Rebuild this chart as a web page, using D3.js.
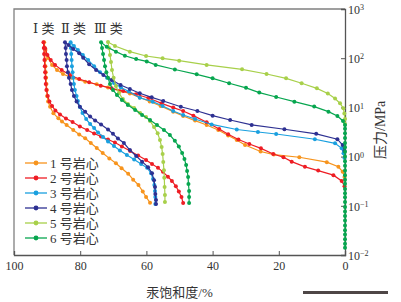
<!DOCTYPE html>
<html>
<head>
<meta charset="utf-8">
<script src="https://cdn.jsdelivr.net/npm/d3@7"></script>
<style>
  body { margin: 0; background: #fff; }
  text { font-family: "Liberation Serif", "DejaVu Serif", "Noto Sans CJK SC", serif; fill: #333; }
</style>
</head>
<body>
<div id="chart"></div>
<script>
// saturation (%) , pressure (MPa) -- injection first, then withdrawal
const core1 = [[0.15,0.385],[0.7,0.49],[2.0,0.62],[5.5,0.77],[13.8,0.97],[21.5,1.10],[25.5,1.27],[30.2,1.72],[32.7,2.17],[35.3,2.69],[38.3,3.47],[41.8,4.4],[45.3,5.4],[48.9,6.7],[51.9,8.2],[55.7,10.7],[59.0,13.2],[62.0,15.9],[65.0,19.2],[68.0,21.5],[71.6,25.4],[75.0,29.5],[78.5,33.3],[82.6,40.2],[85.2,47.7],[87.0,57.5],[88.5,73],[89.7,101],[90.5,147],[90.9,210],
  [90.8,161],[90.7,122],[90.6,92],[90.5,69],[90.4,52],[90.3,40],[90.2,30],[90.1,22.6],[90.0,17.1],[89.7,13.2],[89.1,10.3],[88.1,7.6],[86.6,6.0],[85.5,5.17],[84.1,4.39],[82.1,3.47],[80.3,2.81],[78.5,2.36],[76.8,1.89],[75.0,1.50],[73.2,1.18],[71.2,0.92],[69.2,0.73],[67.5,0.58],[65.5,0.45],[64.0,0.34],[62.4,0.265],[61.1,0.195],[60.1,0.151],[58.9,0.116]];
const core2 = [[0.15,0.25],[1.0,0.32],[3.5,0.42],[8.1,0.52],[12.1,0.62],[16.1,0.79],[18.6,0.97],[21.7,1.13],[25.4,1.47],[28.9,1.80],[32.2,2.23],[35.3,2.84],[38.0,3.64],[41.8,5.0],[45.8,6.8],[48.9,8.45],[51.9,9.9],[55.4,12.1],[59.4,15.5],[63.1,18.5],[67.0,21.5],[70.5,24.4],[73.8,27.6],[77.3,32.4],[80.3,37.8],[83.1,45.6],[85.6,57.5],[87.6,73],[88.9,92],[89.9,116],[90.6,159],[91.1,210],
  [91.0,161],[90.9,122],[90.8,92],[90.7,69],[90.6,52],[90.5,40],[90.4,30],[90.2,22.6],[89.8,17.1],[89.3,13.2],[88.5,10.7],[87.5,8.65],[86.1,7.2],[84.3,5.95],[82.3,5.05],[80.1,4.1],[77.9,3.47],[75.8,2.95],[73.7,2.56],[71.6,2.23],[69.5,1.94],[67.4,1.60],[64.9,1.30],[62.5,1.05],[60.1,0.85],[58.3,0.71],[56.5,0.59],[55.0,0.49],[53.5,0.39],[52.3,0.32],[51.1,0.25],[50.2,0.195],[49.4,0.151],[48.9,0.114]];
const core3 = [[0.15,0.94],[0.45,1.17],[1.0,1.47],[3.0,1.86],[9.1,2.25],[20.8,2.88],[26.3,3.16],[32.7,3.55],[40.3,4.5],[45.3,5.8],[48.9,7.0],[51.9,8.45],[55.1,10.7],[58.1,13.1],[62.0,15.7],[65.3,21],[67.7,25.4],[69.8,31.3],[71.9,40],[74.0,52],[75.8,69],[77.6,92],[79.2,116],[80.7,147],[81.9,177],[82.9,210],
  [82.8,161],[82.7,122],[82.6,92],[82.5,69],[82.3,52],[82.1,40],[81.9,30],[81.6,22.6],[81.1,17.1],[80.7,13.5],[80.1,10.2],[79.3,7.7],[78.2,5.8],[77.0,4.6],[75.8,3.8],[74.6,3.09],[73.1,2.5],[71.6,2.03],[69.8,1.64],[68.0,1.33],[65.9,1.08],[63.7,0.87],[61.6,0.71],[59.8,0.59],[58.6,0.46],[58.0,0.35],[57.6,0.265],[57.4,0.20],[57.3,0.151],[57.3,0.109]];
const core4 = [[0.15,1.3],[0.7,1.72],[2.3,2.26],[8.7,2.9],[18.3,3.6],[28.2,4.4],[34.7,5.55],[40.0,6.8],[44.6,8.45],[49.6,10.3],[54.9,13.5],[58.4,16],[62.0,19.4],[65.0,23.6],[67.8,28.5],[70.5,36],[73.0,45.6],[75.2,57.5],[77.3,75],[79.1,102],[80.3,126],[82.1,154],[83.6,185],[84.6,210],
  [84.4,161],[84.3,122],[84.1,92],[84.0,69],[83.7,52],[83.4,40],[82.9,30],[82.5,22.6],[81.9,17.1],[81.1,13.2],[80.1,10.3],[78.5,8.2],[77.0,6.5],[75.5,5.4],[73.7,4.5],[71.6,3.55],[70.1,2.9],[68.6,2.33],[66.8,1.89],[65.0,1.36],[63.1,1.03],[61.3,0.79],[59.5,0.61],[58.3,0.46],[57.7,0.33],[57.4,0.24],[57.3,0.174],[57.1,0.131],[57.1,0.109]];
const core5 = [[0,4.6],[0,5.8],[0.2,7.5],[0.5,9.6],[1.5,12.1],[3.0,15.2],[5.2,19.2],[8.5,24.4],[13.1,30.9],[17.8,39],[23.7,47.7],[31.1,59.5],[41.8,73],[50.1,89],[55.1,99.5],[60.1,111],[65.0,136],[69.5,177],[71.6,213],
  [71.3,161],[71.0,116],[70.7,84],[70.4,57.5],[69.9,40],[69.2,27.2],[68.3,19.6],[67.1,14.8],[65.6,11.7],[63.7,9.7],[61.9,7.7],[60.1,6.4],[58.9,5.3],[57.7,4.0],[56.6,3.0],[55.9,2.17],[55.4,1.57],[55.1,1.13],[54.9,0.78],[54.7,0.53],[54.6,0.37],[54.5,0.24],[54.4,0.166],[54.4,0.119]];
const core6 = [[0,0.014],[0,0.017],[0,0.021],[0,0.026],[0,0.032],[0,0.04],[0,0.05],[0,0.062],[0,0.077],[0,0.095],[0,0.12],[0,0.15],[0,0.18],[0,0.22],[0,0.28],[0,0.34],[0,0.42],[0,0.52],[0,0.65],[0,0.8],[0,1.0],[0,1.25],[0,1.55],[0,1.9],[0,2.4],[0,3.0],[0,3.7],[0,4.4],[0.6,5.3],[2.3,6.7],[5.0,8.2],[9.3,10.4],[15.3,13.1],[20.8,16.3],[25.9,20],[29.9,25],[35.0,31],[40.0,39],[44.8,47],[51.4,59],[57.2,73],[59.9,86],[63.1,96],[66.5,112],[69.2,136],[72.0,171],[73.7,210],
  [73.4,161],[73.1,122],[72.8,92],[72.5,69],[72.1,52],[71.6,40],[71.0,30],[70.1,22.6],[68.9,17.9],[67.4,14.1],[65.6,11.2],[63.4,8.85],[61.3,7.0],[58.9,5.55],[56.8,4.39],[54.7,3.47],[52.9,2.75],[51.4,2.1],[50.2,1.6],[49.2,1.18],[48.5,0.89],[48.0,0.675],[47.7,0.51],[47.4,0.385],[47.3,0.277],[47.1,0.20],[47.1,0.151],[47.1,0.114]];

const coreNames = ["1 号岩心", "2 号岩心", "3 号岩心", "4 号岩心", "5 号岩心", "6 号岩心"];
const coreColors = ["#f7941d", "#ee1d24", "#1aa0df", "#2e3192", "#a8d04a", "#07a64f"];
const xTicks = [100, 80, 60, 40, 20, 0];
const yTicks = [0.01, 0.1, 1, 10, 100, 1000];
const yExps = ["−2", "−1", "0", "1", "2", "3"];
const groupLabels = ["Ⅰ 类", "Ⅱ 类", "Ⅲ 类"];
const groupSat = [91, 82, 71.5];

const width = 401, height = 302;
const margin = {top: 9, right: 56, bottom: 47, left: 14};

const svg = d3.select("#chart").append("svg")
  .attr("width", width)
  .attr("height", height);

const x = d3.scaleLinear().domain([100, 0]).range([margin.left, width - margin.right]);
const y = d3.scaleLog().domain([0.01, 1000]).range([height - margin.bottom, margin.top]);

// frame top + left (light grey)
svg.append("path")
  .attr("d", `M${x(0)},${y(1000)}H${x(100)}V${y(0.01)}`)
  .attr("fill", "none")
  .attr("stroke", "#808080")
  .attr("stroke-width", 1.3);

// bottom axis
const xAxis = svg.append("g")
  .attr("transform", `translate(0,${y(0.01)})`)
  .call(d3.axisBottom(x).tickValues(xTicks).tickSize(-4).tickPadding(6.5).tickFormat(d3.format("d")));
xAxis.select(".domain").attr("stroke", "#555").attr("stroke-width", 1.3);
xAxis.selectAll(".tick line").attr("stroke", "#555");
xAxis.selectAll("text").style("font-size", "12px").attr("fill", "#333");

// right axis
const yAxis = svg.append("g")
  .attr("transform", `translate(${x(0)},0)`)
  .call(d3.axisRight(y).tickValues(yTicks).tickSize(-4).tickPadding(3).tickFormat(""));
yAxis.select(".domain").attr("stroke", "#555").attr("stroke-width", 1.3);
yAxis.selectAll(".tick line").attr("stroke", "#555");
yAxis.selectAll(".tick text").each(function(d, i) {
  const t = d3.select(this).attr("x", 3).attr("dy", "0.35em").style("font-size", "12px");
  t.append("tspan").text("10");
  t.append("tspan").attr("dy", "-0.45em").style("font-size", "8px").text(yExps[i]);
});

// curves
const line = d3.line().x(d => x(d[0])).y(d => y(d[1]));
const cores = [core1, core2, core3, core4, core5, core6];
cores.forEach((data, i) => {
  const g = svg.append("g");
  g.append("path")
    .attr("d", line(data))
    .attr("fill", "none")
    .attr("stroke", coreColors[i])
    .attr("stroke-width", 1.2);
  g.selectAll("circle")
    .data(data)
    .enter()
    .append("circle")
    .attr("cx", d => x(d[0]))
    .attr("cy", d => y(d[1]))
    .attr("r", 2)
    .attr("fill", coreColors[i]);
});

// class labels
svg.selectAll(".grp")
  .data(groupLabels)
  .enter()
  .append("text")
  .attr("class", "grp")
  .attr("x", (d, i) => x(groupSat[i]))
  .attr("y", y(330))
  .attr("text-anchor", "middle")
  .style("font-size", "13px")
  .text(d => d);

// legend
const legend = svg.append("g").attr("transform", "translate(25,163)");
coreNames.forEach((name, i) => {
  const row = legend.append("g").attr("transform", `translate(0,${i * 15})`);
  row.append("line").attr("x1", 0).attr("x2", 22).attr("stroke", coreColors[i]).attr("stroke-width", 1.3);
  row.append("circle").attr("cx", 11).attr("r", 2.4).attr("fill", coreColors[i]);
  row.append("text").attr("x", 25).attr("dy", "0.36em").style("font-size", "13px").text(name);
});

// axis titles
svg.append("text")
  .attr("x", (x(100) + x(0)) / 2)
  .attr("y", 297)
  .attr("text-anchor", "middle")
  .style("font-size", "13px")
  .text("汞饱和度/%");

svg.append("text")
  .attr("transform", `translate(385,${y(3.5)}) rotate(-90)`)
  .attr("text-anchor", "middle")
  .style("font-size", "14px")
  .text("压力/MPa");

// scale bar under the chart
svg.append("line")
  .attr("x1", 303).attr("x2", 388)
  .attr("y1", 292.5).attr("y2", 292.5)
  .attr("stroke", "#4e4646")
  .attr("stroke-width", 2.8);
</script>
</body>
</html>
